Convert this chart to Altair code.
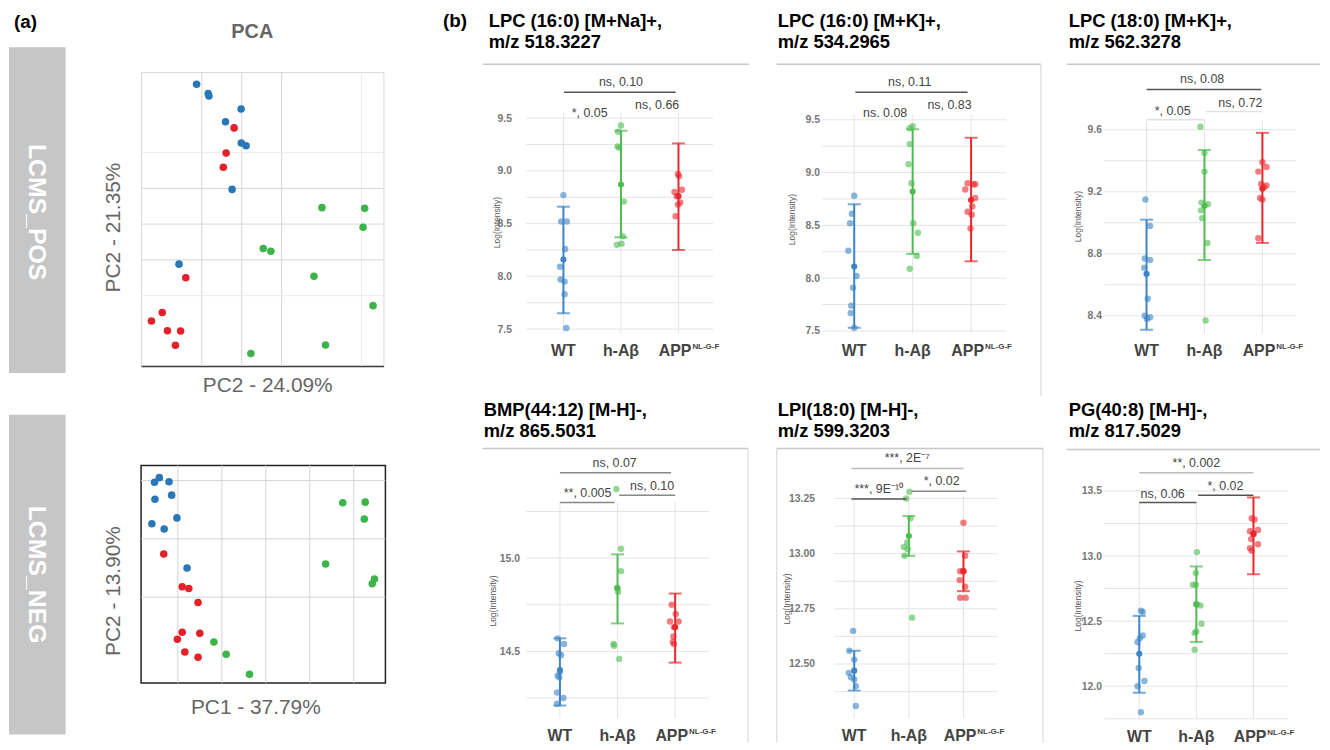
import altair as alt
import pandas as pd

FONT = "Liberation Sans"
GROUPS = ["WT", "h-Aβ", "APP"]
STRIP_COLORS = ["#3b84c5", "#4dbb50", "#e8262c"]
PCA_COLORS = ["#2a77b7", "#3cb44a", "#e3212a"]

# ---------------- (a) PCA scores ----------------
POS_WT_X = [-11.3, -8.2, -8.4, -0.15, -4.05, -0.1, 1.1, -2.4, -15.7]
POS_WT_Y = [39.1, 35.8, 36.5, 32.2, 28.6, 22.7, 21.9, 9.7, -11.2]
POS_HAB_X = [20.1, 30.8, 30.4, 5.4, 7.3, 18.1, 32.9, 21.0, 2.3]
POS_HAB_Y = [4.6, 4.4, -0.9, -6.8, -7.6, -14.6, -22.8, -33.8, -36.2]
POS_APP_X = [-1.9, -3.9, -4.6, -14.0, -19.9, -22.6, -18.6, -15.3, -16.6]
POS_APP_Y = [26.9, 19.9, 15.9, -15.0, -24.7, -27.1, -29.8, -29.9, -33.9]

NEG_WT_X = [-14.2, -15.3, -12.0, -15.2, -11.4, -10.2, -15.9, -13.1, -7.9]
NEG_WT_Y = [10.5, 9.7, 9.8, 6.8, 7.5, 3.6, 2.6, 1.7, -5.0]
NEG_HAB_X = [27.5, 32.6, 32.4, 23.6, 34.7, 34.2, -1.8, 1.0, 6.3]
NEG_HAB_Y = [6.2, 6.3, 3.4, -4.3, -6.9, -7.7, -17.7, -19.8, -23.2]
NEG_APP_X = [-13.2, -9.0, -7.5, -5.4, -9.0, -10.1, -5.0, -8.4, -5.4]
NEG_APP_Y = [-2.6, -8.2, -8.5, -10.9, -16.0, -17.2, -16.2, -19.4, -20.3]

# ---------------- (b) strip panels ----------------
P1_TITLE = ["LPC (16:0) [M+Na]+,", "m/z 518.3227"]
P1_WT = [8.77, 8.52, 8.52, 8.26, 8.09, 7.97, 7.95, 7.83, 7.51]
P1_WT_J = [0.0, -0.04, 0.06, 0.03, -0.06, -0.05, 0.02, 0.02, 0.05]
P1_HAB = [9.43, 9.37, 9.23, 9.22, 8.71, 8.38, 8.31, 8.30]
P1_HAB_J = [0.0, -0.05, -0.06, -0.03, 0.05, 0.03, 0.01, -0.07]
P1_APP = [8.97, 8.95, 8.82, 8.80, 8.76, 8.70, 8.68, 8.57]
P1_APP_J = [-0.01, 0.01, 0.06, -0.07, -0.03, 0.03, -0.01, -0.05]
P1_MEAN = [8.16, 8.87, 8.76]
P1_LO = [7.65, 8.37, 8.25]
P1_HI = [8.66, 9.38, 9.26]
P1_SIG = ["ns, 0.10", "*, 0.05", "ns, 0.66"]

P2_TITLE = ["LPC (16:0) [M+K]+,", "m/z 534.2965"]
P2_WT = [8.78, 8.61, 8.52, 8.26, 8.02, 7.91, 7.74, 7.67, 7.53]
P2_WT_J = [0.0, -0.04, -0.07, -0.1, 0.04, -0.02, -0.05, -0.06, 0.0]
P2_HAB = [9.44, 9.42, 9.27, 9.08, 8.90, 8.52, 8.43, 8.21, 8.09]
P2_HAB_J = [0.0, -0.05, -0.05, -0.07, -0.02, 0.01, 0.09, 0.07, -0.05]
P2_APP = [8.90, 8.89, 8.89, 8.84, 8.76, 8.68, 8.63, 8.60, 8.47]
P2_APP_J = [-0.06, 0.04, 0.07, -0.10, 0.07, 0.02, -0.06, 0.01, -0.01]
P2_MEAN = [8.11, 8.82, 8.74]
P2_LO = [7.53, 8.23, 8.16]
P2_HI = [8.70, 9.41, 9.33]
P2_SIG = ["ns, 0.11", "ns. 0.08", "ns, 0.83"]

P3_TITLE = ["LPC (18:0) [M+K]+,", "m/z 562.3278"]
P3_WT = [9.15, 8.98, 8.77, 8.76, 8.71, 8.51, 8.40, 8.39, 8.38]
P3_WT_J = [-0.02, 0.06, -0.03, 0.06, -0.04, 0.02, -0.03, 0.06, 0.01]
P3_HAB = [9.62, 9.45, 9.33, 9.13, 9.12, 9.08, 9.03, 8.87, 8.37]
P3_HAB_J = [-0.07, 0.0, 0.0, -0.05, 0.06, -0.06, -0.04, 0.05, 0.02]
P3_APP = [9.39, 9.36, 9.33, 9.25, 9.24, 9.23, 9.16, 9.15, 8.90]
P3_APP_J = [0.0, 0.07, -0.07, -0.02, 0.07, 0.03, -0.04, 0.0, -0.07]
P3_MEAN = [8.67, 9.11, 9.22]
P3_LO = [8.31, 8.76, 8.87]
P3_HI = [9.02, 9.47, 9.58]
P3_SIG = ["ns, 0.08", "*, 0.05", "ns, 0.72"]

P4_TITLE = ["BMP(44:12) [M-H]-,", "m/z 865.5031"]
P4_WT = [14.57, 14.54, 14.49, 14.48, 14.39, 14.37, 14.36, 14.28, 14.25, 14.22]
P4_WT_J = [-0.04, 0.07, -0.02, 0.02, 0.0, -0.04, -0.01, -0.05, 0.06, -0.05]
P4_HAB = [15.37, 15.05, 14.93, 14.84, 14.82, 14.54, 14.53, 14.46]
P4_HAB_J = [-0.02, 0.06, 0.06, -0.01, 0.01, -0.07, -0.06, 0.03]
P4_APP = [14.75, 14.70, 14.66, 14.66, 14.63, 14.58, 14.55, 14.54]
P4_APP_J = [-0.06, 0.01, -0.09, 0.06, -0.02, -0.03, -0.04, -0.02]
P4_MEAN = [14.40, 14.84, 14.63]
P4_LO = [14.21, 14.65, 14.44]
P4_HI = [14.57, 15.02, 14.81]
P4_SIG = ["ns, 0.07", "**, 0.005", "ns, 0.10"]

P5_TITLE = ["LPI(18:0) [M-H]-,", "m/z 599.3203"]
P5_WT = [12.65, 12.56, 12.52, 12.46, 12.44, 12.43, 12.40, 12.31]
P5_WT_J = [-0.02, -0.09, 0.0, -0.1, -0.06, 0.0, 0.03, 0.03]
P5_HAB = [13.28, 13.25, 13.16, 13.05, 13.03, 13.02, 12.99, 12.71]
P5_HAB_J = [0.01, -0.05, 0.03, -0.03, -0.09, -0.02, -0.08, 0.06]
P5_APP = [13.14, 12.99, 12.92, 12.92, 12.88, 12.85, 12.80, 12.80]
P5_APP_J = [0.0, 0.03, -0.06, 0.0, -0.07, 0.03, -0.06, 0.04]
P5_MEAN = [12.47, 13.08, 12.92]
P5_LO = [12.38, 12.99, 12.83]
P5_HI = [12.56, 13.17, 13.01]
P5_SIG = ["***, 2E⁻⁷", "***, 9E⁻¹⁰", "*, 0.02"]

P6_TITLE = ["PG(40:8) [M-H]-,", "m/z 817.5029"]
P6_WT = [12.58, 12.57, 12.39, 12.37, 12.34, 12.14, 12.04, 12.00, 11.80]
P6_WT_J = [0.03, 0.06, 0.06, 0.01, -0.03, -0.01, 0.09, -0.03, 0.03]
P6_HAB = [13.03, 12.87, 12.78, 12.78, 12.63, 12.62, 12.48, 12.42, 12.41, 12.28]
P6_HAB_J = [0.01, -0.01, -0.06, -0.01, 0.0, 0.07, 0.09, 0.0, -0.03, -0.03]
P6_APP = [13.29, 13.28, 13.20, 13.19, 13.17, 13.13, 13.09, 13.06, 13.04]
P6_APP_J = [-0.03, 0.02, 0.08, -0.06, 0.0, -0.04, 0.08, -0.06, -0.03]
P6_MEAN = [12.25, 12.63, 13.17]
P6_LO = [11.95, 12.34, 12.86]
P6_HI = [12.54, 12.92, 13.45]
P6_SIG = ["**, 0.002", "ns, 0.06", "*, 0.02"]

ONE = pd.DataFrame({"k": [0]})


def vrect(x1, x2, y1, y2, **kw):
    return alt.Chart(ONE).mark_rect(**kw).encode(
        x=alt.value(x1), x2=alt.value(x2), y=alt.value(y1), y2=alt.value(y2))


def vrule(x1, x2, y1, y2, **kw):
    return alt.Chart(ONE).mark_rule(**kw).encode(
        x=alt.value(x1), x2=alt.value(x2), y=alt.value(y1), y2=alt.value(y2))


def vtext(x, y, text, **kw):
    return alt.Chart(ONE).mark_text(font=FONT, **kw).encode(
        x=alt.value(x), y=alt.value(y), text=alt.value(text))


def frame(g):
    return vrect(-g["L"], g["W"] + g["R"], -g["T"], g["H"] + g["B"], opacity=0)


# ---------------- PCA panel ----------------
def pca_panel(g, strip_label, xtitle, ytitle, wx, wy, hx, hy, ax, ay, extra):
    W, H = g["W"], g["H"]
    xs = alt.Scale(domain=g["xdom"], nice=False, zero=False)
    ys = alt.Scale(domain=g["ydom"], nice=False, zero=False)
    common = dict(labels=False, ticks=False, grid=False, titleFont=FONT,
                  titleFontSize=21, titleFontWeight="normal", titleColor="#666666",
                  titleBaseline="middle", titleAlign="center")
    xaxis = alt.Axis(title=xtitle, domain=g["xline"], domainColor="#3a3a3a",
                     domainWidth=1.5, titleX=g["xtx"], titleY=g["xty"], **common)
    yaxis = alt.Axis(title=ytitle, domain=False, titleAngle=-90,
                     titleX=g["ytx"], titleY=g["yty"], **common)

    def X(f):
        return alt.X(f, type="quantitative", scale=xs, axis=xaxis)

    def Y(f):
        return alt.Y(f, type="quantitative", scale=ys, axis=yaxis)

    pts = pd.DataFrame({
        "grp": ["WT"] * len(wx) + ["APP"] * len(ax) + ["h-Aβ"] * len(hx),
        "px": wx + ax + hx,
        "py": wy + ay + hy,
    })
    layers = [frame(g),
              vrect(g["sx"][0], g["sx"][1], g["sy"][0], g["sy"][1], color="#c6c6c6"),
              vtext(g["stx"], g["sty"], strip_label, angle=90, align="center",
                    baseline="middle", color="white", fontSize=25, fontWeight="bold")]
    for vals, col in ((g["xgrid_minor"], "#ececec"), (g["xgrid_major"], "#d6d6d6")):
        layers.append(alt.Chart(pd.DataFrame({"v": vals})).mark_rule(
            color=col, strokeWidth=1).encode(x=X("v")))
    for vals, col in ((g["ygrid_minor"], "#ececec"), (g["ygrid_major"], "#d6d6d6")):
        layers.append(alt.Chart(pd.DataFrame({"v": vals})).mark_rule(
            color=col, strokeWidth=1).encode(y=Y("v")))
    layers.append(alt.Chart(pts).mark_circle(size=58, opacity=1).encode(
        x=X("px"), y=Y("py"),
        color=alt.Color("grp:N", scale=alt.Scale(domain=GROUPS, range=PCA_COLORS),
                        legend=None)))
    layers += extra
    return alt.layer(*layers).properties(
        width=W, height=H,
        view=alt.ViewBackground(stroke=g["stroke"], strokeWidth=g["strokeWidth"]))


# Page layout: content starts at (8, 11); columns A 8-440, B 440-760, C 760-1060,
# D 1060-1322; rows 11-398 and 398-745.  Top-row plot origins share y = 72.
G_POS = dict(W=244, H=296, L=133, R=55, T=61, B=30,
             xdom=[-25.2, 35.5], ydom=[-39.7, 42.5],
             xgrid_major=[-10, 0, 10], xgrid_minor=[30],
             ygrid_major=[-10, 0, 10], ygrid_minor=[-20, 20],
             xline=True, xtx=127, xty=20, ytx=-28, yty=156,
             sx=(-133, -76), sy=(-25, 303), stx=-104.5, sty=141,
             stroke="#d9d9d9", strokeWidth=1)
G_NEG = dict(W=246, H=219, L=133, R=53, T=68, B=60,
             xdom=[-18.35, 37.2], ydom=[-24.7, 12.6],
             xgrid_major=[-10, 0, 10, 20, 30], xgrid_minor=[],
             ygrid_major=[10, 0, -10], ygrid_minor=[],
             xline=False, xtx=115, xty=25, ytx=-28, yty=126,
             sx=(-133, -76), sy=(-51, 271), stx=-104.5, sty=110,
             stroke="#222222", strokeWidth=1.5)

A1 = pca_panel(G_POS, "LCMS_POS", "PC2 -  24.09%", "PC2 -  21.35%",
               POS_WT_X, POS_WT_Y, POS_HAB_X, POS_HAB_Y, POS_APP_X, POS_APP_Y,
               [vtext(-128, -50, "(a)", align="left", baseline="middle",
                      fontSize=19, fontWeight="bold", color="black"),
                vtext(112, -40, "PCA", align="center", baseline="middle",
                      fontSize=20, fontWeight="bold", color="#666666")])
A2 = pca_panel(G_NEG, "LCMS_NEG", "PC1 -  37.79%", "PC2 -  13.90%",
               NEG_WT_X, NEG_WT_Y, NEG_HAB_X, NEG_HAB_Y, NEG_APP_X, NEG_APP_Y, [])


# ---------------- strip panel ----------------
def strip_panel(g, title, wt, wtj, hab, habj, app, appj, mean, lo, hi, sig, extra=()):
    W, H = g["W"], g["H"]
    sepy = g.get("sepy", 0)
    xs = alt.Scale(domain=g["xdom"], nice=False, zero=False)
    ys = alt.Scale(domain=g["ydom"], nice=False, zero=False)
    yaxis = alt.Axis(
        values=g["labels"], format=g["fmt"], grid=False,
        domain=False, ticks=False, labelOverlap=False,
        labelFont=FONT, labelFontSize=10.5, labelFontWeight="bold", labelColor="#777777",
        labelPadding=g["labpad"],
        title="Log(Intensity)", titleFont=FONT, titleFontSize=8.5,
        titleFontWeight="normal", titleColor="#555555", titleAngle=-90,
        titleX=g["tx"], titleY=g["ty"], titleAlign="center", titleBaseline="middle")

    def X(f):
        return alt.X(f, type="quantitative", scale=xs, axis=None)

    def Y(f):
        return alt.Y(f, type="quantitative", scale=ys, axis=yaxis)

    color = alt.Color("grp:N", scale=alt.Scale(domain=GROUPS, range=STRIP_COLORS),
                      legend=None)
    pts = pd.DataFrame({
        "grp": ["WT"] * len(wt) + ["h-Aβ"] * len(hab) + ["APP"] * len(app),
        "idx": [0] * len(wt) + [1] * len(hab) + [2] * len(app),
        "jit": wtj + habj + appj,
        "val": wt + hab + app,
    })
    err = pd.DataFrame({"grp": GROUPS, "idx": [0, 1, 2], "mean": mean, "lo": lo, "hi": hi})
    hgrid = pd.DataFrame({"g": g["grid"]})
    vgrid = pd.DataFrame({"idx": [0, 1, 2], "y0": [g["ydom"][0]] * 3, "y1": [g["vtop"]] * 3})
    cats = pd.DataFrame({"idx": [0, 1, 2], "lab": ["WT", "h-Aβ", "APP"]})
    sig_lines = pd.DataFrame({"x1": [l[0] for l in g["lines"]],
                              "x2": [l[1] for l in g["lines"]],
                              "y": [l[2] for l in g["lines"]],
                              "c": [l[3] for l in g["lines"]]})
    sig_text = pd.DataFrame({"x": [p[0] for p in g["texts"]],
                             "y": [p[1] for p in g["texts"]],
                             "t": sig})
    ly = H + 18
    layers = [
        frame(g),
        alt.Chart(hgrid).mark_rule(color="#e4e4e4", strokeWidth=1).encode(
            y=Y("g"), x=alt.value(g.get("gx0", 0)), x2=alt.value(W)),
        alt.Chart(vgrid).mark_rule(color="#e4e4e4", strokeWidth=1).encode(
            x=X("idx"), y=Y("y0"), y2=alt.Y2("y1")),
        alt.Chart(pts).transform_calculate(xp="datum.idx + datum.jit").mark_circle(
            size=42, opacity=0.6).encode(x=X("xp"), y=Y("val"), color=color),
        alt.Chart(err).mark_rule(strokeWidth=2).encode(
            x=X("idx"), y=Y("lo"), y2=alt.Y2("hi"), color=color),
        alt.Chart(err).mark_tick(orient="horizontal", size=13, thickness=2).encode(
            x=X("idx"), y=Y("lo"), color=color),
        alt.Chart(err).mark_tick(orient="horizontal", size=13, thickness=2).encode(
            x=X("idx"), y=Y("hi"), color=color),
        alt.Chart(err).mark_circle(size=38, opacity=1).encode(
            x=X("idx"), y=Y("mean"), color=color),
        alt.Chart(cats).transform_filter("datum.idx < 2").mark_text(
            font=FONT, fontSize=16, fontWeight="bold", color="#444444",
            align="center", baseline="middle").encode(
            x=X("idx"), y=alt.value(ly), text="lab:N"),
        alt.Chart(cats).transform_filter("datum.idx == 2").mark_text(
            font=FONT, fontSize=16, fontWeight="bold", color="#444444",
            align="right", baseline="middle", dx=13).encode(
            x=X("idx"), y=alt.value(ly), text="lab:N"),
        alt.Chart(cats).transform_filter("datum.idx == 2").mark_text(
            font=FONT, fontSize=8, fontWeight="bold", color="#444444",
            align="left", baseline="middle", dx=14, dy=-4).encode(
            x=X("idx"), y=alt.value(ly), text=alt.value("NL-G-F")),
        alt.Chart(sig_lines).mark_rule(strokeWidth=1.5).encode(
            x=X("x1"), x2=alt.X2("x2"), y=Y("y"), color=alt.Color("c:N", scale=None)),
        alt.Chart(sig_text).mark_text(font=FONT, fontSize=12.5, color="#444444",
                                      align="center", baseline="middle").encode(
            x=X("x"), y=Y("y"), text="t:N"),
        vtext(g["tdx"], g["tdy"], title, align="left", baseline="alphabetic",
              fontSize=18.5, fontWeight="bold", color="black", lineHeight=21),
        vrule(g["sep"][0], g["sep"][1], sepy, sepy, color="#c8c8c8", strokeWidth=1.5),
    ]
    for bx in g.get("borders", []):
        layers.append(vrule(bx, bx, sepy, g["H"] + g["B"], color="#d5d5d5", strokeWidth=1))
    layers += list(extra)
    return alt.layer(*layers).properties(width=W, height=H)


DARK = "#555555"
MID = "#888888"
LIGHT = "#bbbbbb"
FAINT = "#e0e0e0"

# top-row strip panels: plot area y 72-335, separator at page y 64 (sepy=-8)
G1 = dict(W=188, H=263, L=87, R=45, T=61, B=63, sepy=-8,
          xdom=[-0.643, 2.603], ydom=[7.46, 9.936],
          grid=[7.5, 7.75, 8.0, 8.25, 8.5, 8.75, 9.0, 9.25, 9.5],
          labels=[7.5, 8.0, 8.5, 9.0, 9.5], fmt=".1f", labpad=15, tx=-30, ty=151,
          vtop=9.55, tdx=-38, tdy=-45, sep=(-44, 224),
          lines=[(0.01, 1.95, 9.745, DARK)],
          texts=[(1.0, 9.839), (0.455, 9.547), (1.63, 9.625)])
G2 = dict(W=185, H=263, L=63, R=52, T=61, B=63, sepy=-8,
          xdom=[-0.544, 2.6], ydom=[7.478, 9.952],
          grid=[7.5, 7.75, 8.0, 8.25, 8.5, 8.75, 9.0, 9.25, 9.5],
          labels=[7.5, 8.0, 8.5, 9.0, 9.5], fmt=".1f", labpad=3, tx=-31, ty=148,
          vtop=9.55, tdx=-45, tdy=-45, sep=(-46, 220), borders=[220],
          lines=[(0.02, 1.94, 9.76, DARK)],
          texts=[(0.95, 9.854), (0.53, 9.569), (1.63, 9.641)])
G3 = dict(W=193, H=263, L=45, R=24, T=61, B=63, sepy=-8,
          xdom=[-0.726, 2.583], ydom=[8.287, 9.972],
          grid=[8.4, 8.6, 8.8, 9.0, 9.2, 9.4, 9.6],
          labels=[8.4, 8.8, 9.2, 9.6], fmt=".1f", labpad=3, tx=-27, ty=145,
          vtop=9.66, tdx=-36, tdy=-45, sep=(-38, 217),
          lines=[(0.0, 1.98, 9.86, DARK), (0.0, 1.0, 9.664, FAINT),
                 (1.02, 2.0, 9.717, FAINT)],
          texts=[(0.96, 9.925), (0.45, 9.722), (1.62, 9.775)])
G4 = dict(W=184, H=271, L=87, R=49, T=51, B=25,
          xdom=[-0.581, 2.591], ydom=[14.145, 15.587],
          grid=[14.25, 14.5, 14.75, 15.0, 15.25],
          labels=[14.5, 15.0], fmt=".1f", labpad=7, tx=-34, ty=153,
          vtop=15.3, tdx=-43, tdy=-33, sep=(-44, 223), borders=[223],
          lines=[(0.0, 1.93, 15.457, MID), (0.0, 0.95, 15.298, MID),
                 (1.03, 2.0, 15.337, MID)],
          texts=[(0.95, 15.511), (0.48, 15.351), (1.6, 15.387)])
G5 = dict(W=176, H=271, L=63, R=61, T=51, B=25, gx0=12,
          xdom=[-0.582, 2.618], ydom=[12.257, 13.476],
          grid=[12.375, 12.5, 12.625, 12.75, 12.875, 13.0, 13.125, 13.25],
          labels=[12.5, 12.75, 13.0, 13.25], fmt=".2f", labpad=8, tx=-36, ty=151,
          vtop=13.26, tdx=-45, tdy=-33, sep=(-46, 222), borders=[-46, 222],
          lines=[(-0.05, 2.0, 13.385, LIGHT), (-0.05, 0.96, 13.247, DARK),
                 (1.05, 2.05, 13.283, MID)],
          texts=[(0.97, 13.434), (0.45, 13.292), (1.6, 13.329)])
G6 = dict(W=185, H=271, L=45, R=32, T=52, B=24,
          xdom=[-0.609, 2.609], ydom=[11.751, 13.818],
          grid=[11.75, 12.0, 12.25, 12.5, 12.75, 13.0, 13.25, 13.5],
          labels=[12.0, 12.5, 13.0, 13.5], fmt=".1f", labpad=3, tx=-27, ty=157,
          vtop=13.42, tdx=-36, tdy=-34, sep=(-38, 217),
          lines=[(0.0, 2.0, 13.64, LIGHT), (0.0, 1.0, 13.411, DARK),
                 (1.03, 2.0, 13.467, DARK)],
          texts=[(1.0, 13.716), (0.41, 13.475), (1.51, 13.538)])

P1 = strip_panel(G1, P1_TITLE, P1_WT, P1_WT_J, P1_HAB, P1_HAB_J, P1_APP, P1_APP_J,
                 P1_MEAN, P1_LO, P1_HI, P1_SIG,
                 extra=[vtext(-84, -51, "(b)", align="left", baseline="middle",
                              fontSize=19, fontWeight="bold", color="black")])
P2 = strip_panel(G2, P2_TITLE, P2_WT, P2_WT_J, P2_HAB, P2_HAB_J, P2_APP, P2_APP_J,
                 P2_MEAN, P2_LO, P2_HI, P2_SIG)
P3 = strip_panel(G3, P3_TITLE, P3_WT, P3_WT_J, P3_HAB, P3_HAB_J, P3_APP, P3_APP_J,
                 P3_MEAN, P3_LO, P3_HI, P3_SIG)
P4 = strip_panel(G4, P4_TITLE, P4_WT, P4_WT_J, P4_HAB, P4_HAB_J, P4_APP, P4_APP_J,
                 P4_MEAN, P4_LO, P4_HI, P4_SIG)
P5 = strip_panel(G5, P5_TITLE, P5_WT, P5_WT_J, P5_HAB, P5_HAB_J, P5_APP, P5_APP_J,
                 P5_MEAN, P5_LO, P5_HI, P5_SIG)
P6 = strip_panel(G6, P6_TITLE, P6_WT, P6_WT_J, P6_HAB, P6_HAB_J, P6_APP, P6_APP_J,
                 P6_MEAN, P6_LO, P6_HI, P6_SIG)

RES = dict(x="independent", y="independent", color="independent")
colA = alt.vconcat(A1, A2, spacing=0).resolve_scale(**RES)
colB = alt.vconcat(P1, P4, spacing=0).resolve_scale(**RES)
colC = alt.vconcat(P2, P5, spacing=0).resolve_scale(**RES)
colD = alt.vconcat(P3, P6, spacing=0).resolve_scale(**RES)
chart = alt.hconcat(colA, colB, colC, colD, spacing=0).resolve_scale(**RES).properties(
    padding=0, background="white"
).configure(font=FONT).configure_view(stroke="transparent")

chart.save("out.html", embed_options={"renderer": "svg", "actions": False})
